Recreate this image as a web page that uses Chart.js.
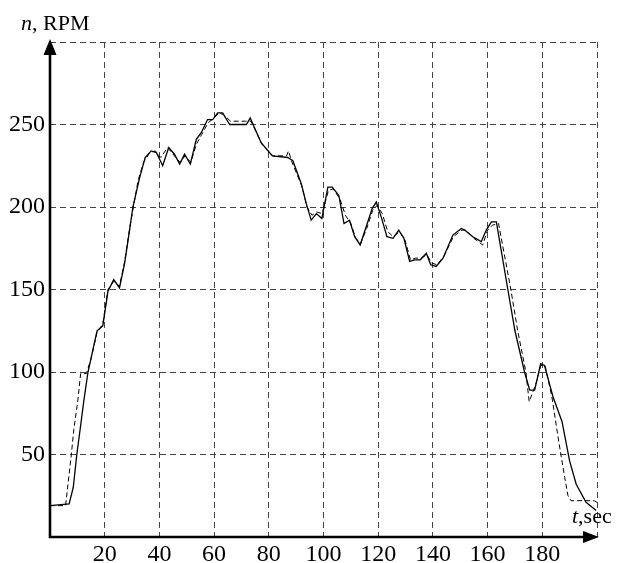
<!DOCTYPE html>
<html>
<head>
<meta charset="utf-8">
<script src="https://cdn.jsdelivr.net/npm/chart.js@4.4.1/dist/chart.umd.min.js"></script>
<style>
  body { margin: 0; background: #fff; }
  canvas { display: block; }
</style>
</head>
<body>
<canvas id="myChart" width="618" height="563"></canvas>
<script>
// measured speed (solid line)
const measT = [0, 7, 8.5, 9.8, 11, 12.4, 13.9, 15.5, 17.2, 19.3, 21.2, 23.3, 25.4, 27.3, 29.1, 30.3, 32.8, 34.8, 37, 38.9,
  41.2, 43.4, 45.5, 47.4, 49.2, 51.3, 53.5, 55.3, 57.6, 59.5, 61.3, 63.1, 65.7, 71.8, 73.2, 77.2, 81.3, 86.9, 88.8, 91.9,
  93.7, 95.5, 97.4, 99.4, 101.6, 103.2, 105.6, 107.5, 109.5, 111.4, 113.4, 115.6, 117.8, 119.3, 121.1, 123.2, 125.4, 127.5, 129.4, 131.5,
  133.3, 135.4, 137.6, 139.2, 141.2, 143.7, 147.3, 150.4, 151.6, 154.6, 157.7, 159.5, 161.4, 163.2, 167.4, 170, 173.5, 175.4, 177.2, 179.4,
  180.8, 183.9, 187.2, 190, 192.4, 196, 199.7];
const measN = [19, 20, 30, 50, 65, 83, 100, 112, 125, 128, 149, 156, 151, 166, 186, 200, 218, 230, 234, 233,
  225, 236, 232, 226, 232, 226, 241, 245, 253, 253, 257, 257, 250, 250, 254, 239, 231, 230, 228, 214,
  202, 192, 196, 193, 212, 212, 207, 190, 192, 182, 177, 188, 199, 203, 194, 182, 181, 186, 181, 167,
  168, 168, 172, 165, 164, 169, 183, 187, 186, 182, 179, 186, 191, 191, 150, 125, 100, 89, 89, 105,
  104, 85, 70, 46, 32, 21, 16];

// model speed (dashed line)
const modelT = [0, 5.7, 7.8, 8.7, 10.2, 11.2, 13.3, 15, 17.2, 19.3, 21.2, 23.3, 25.4, 27.3, 29.1, 30.5, 32.2, 34.2, 36.5, 38.5,
  40.5, 43, 45.5, 47.6, 49.4, 51.5, 53.5, 55.5, 57.8, 60, 61.8, 63.5, 66, 71.5, 73.5, 77.5, 81.5, 86.5, 87.2, 88.5,
  92, 94, 95.8, 97.5, 99.5, 101.8, 103.5, 106, 108, 110, 111.8, 113.6, 115.8, 118, 119.6, 121.5, 123.5, 125.5, 127.8, 129.8,
  131.8, 133.6, 135.6, 137.8, 139.6, 141.5, 144, 147.5, 150.6, 152, 155, 158.2, 160, 161.8, 164, 168.5, 171, 174, 175.2, 177.5,
  179.5, 181, 183.5, 186, 188.2, 189.4, 190.5, 199, 200];
const modelN = [19, 19, 50, 65, 83, 99, 99, 108, 124, 129, 150, 155, 152, 167, 187, 200, 216, 227, 233, 234,
  230, 236, 231, 227, 231, 227, 238, 244, 251, 254, 257, 256, 252, 252, 252, 238, 231, 231, 234, 227,
  213, 200, 195, 197, 196, 210, 211, 205, 195, 190, 181, 178, 187, 198, 201, 196, 185, 182, 185, 180,
  168, 169, 169, 171, 166, 165, 170, 182, 186, 186, 181, 177, 186, 189, 190, 150, 125, 100, 82, 92,
  104, 104, 85, 58, 36, 25, 22, 22, 21];

const xTicks = [20, 40, 60, 80, 100, 120, 140, 160, 180];
const yTicks = [50, 100, 150, 200, 250];

const serif = '"Liberation Serif", "Times New Roman", serif';

function toPoints(xs, ys) {
  const pts = [];
  for (let i = 0; i < xs.length; i++) pts.push({ x: xs[i], y: ys[i] });
  return pts;
}

// axes with arrows + axis titles
const axesPlugin = {
  id: 'axes',
  afterDraw(chart) {
    const ctx = chart.ctx;
    const a = chart.chartArea;
    const x0 = chart.scales.x.getPixelForValue(0);
    const y0 = chart.scales.y.getPixelForValue(0);
    ctx.save();
    ctx.strokeStyle = '#000';
    ctx.fillStyle = '#000';
    ctx.lineWidth = 2.6;
    ctx.beginPath();
    ctx.moveTo(x0, y0 + 1.3);
    ctx.lineTo(x0, a.top + 10);
    ctx.moveTo(x0 - 1.3, y0);
    ctx.lineTo(a.right - 10, y0);
    ctx.stroke();
    // arrow heads
    ctx.beginPath();
    ctx.moveTo(x0, a.top - 3);
    ctx.lineTo(x0 - 6.5, a.top + 13);
    ctx.lineTo(x0 + 6.5, a.top + 13);
    ctx.closePath();
    ctx.fill();
    ctx.beginPath();
    ctx.moveTo(a.right + 2, y0);
    ctx.lineTo(a.right - 14, y0 - 6);
    ctx.lineTo(a.right - 14, y0 + 6);
    ctx.closePath();
    ctx.fill();
    // titles
    ctx.textBaseline = 'alphabetic';
    ctx.textAlign = 'left';
    ctx.font = 'italic 22px ' + serif;
    ctx.fillText('n', 21, 30);
    let w = ctx.measureText('n').width;
    ctx.font = '22px ' + serif;
    ctx.fillText(', RPM', 21 + w, 30);

    ctx.font = 'italic 22px ' + serif;
    ctx.fillText('t', 572, 523);
    w = ctx.measureText('t').width;
    ctx.font = '22px ' + serif;
    ctx.fillText(',sec', 572 + w, 523);
    ctx.restore();
  }
};

new Chart(document.getElementById('myChart'), {
  type: 'line',
  data: {
    datasets: [
      {
        label: 'measured',
        data: toPoints(measT, measN),
        borderColor: '#000',
        borderWidth: 1.3,
        pointRadius: 0,
        tension: 0,
        fill: false
      },
      {
        label: 'model',
        data: toPoints(modelT, modelN),
        borderColor: '#000',
        borderWidth: 1,
        borderDash: [5, 3],
        pointRadius: 0,
        tension: 0,
        fill: false
      }
    ]
  },
  options: {
    responsive: false,
    animation: false,
    layout: { padding: { top: 42, right: 21, left: 0, bottom: 0 } },
    plugins: {
      legend: { display: false },
      tooltip: { enabled: false }
    },
    scales: {
      x: {
        type: 'linear',
        min: 0,
        max: 200,
        afterBuildTicks: (scale) => {
          scale.ticks = [0].concat(xTicks, [200]).map(v => ({ value: v }));
        },
        afterFit: (scale) => { scale.height = 26; },
        border: { display: false, dash: [6, 4] },
        grid: {
          drawTicks: false,
          lineWidth: 1,
          color: (c) => c.tick && c.tick.value === 0 ? 'rgba(0,0,0,0)' : '#444'
        },
        ticks: {
          padding: 3,
          color: '#000',
          font: { family: serif, size: 24 },
          maxRotation: 0,
          autoSkip: false,
          callback: (v) => xTicks.includes(v) ? String(v) : ''
        }
      },
      y: {
        type: 'linear',
        min: 0,
        max: 300,
        afterBuildTicks: (scale) => {
          scale.ticks = [0].concat(yTicks, [300]).map(v => ({ value: v }));
        },
        afterFit: (scale) => { scale.width = 50; },
        border: { display: false, dash: [6, 4] },
        grid: {
          drawTicks: false,
          lineWidth: 1,
          color: (c) => c.tick && c.tick.value === 0 ? 'rgba(0,0,0,0)' : '#444'
        },
        ticks: {
          padding: 5,
          color: '#000',
          font: { family: serif, size: 24 },
          autoSkip: false,
          callback: (v) => yTicks.includes(v) ? String(v) : ''
        }
      }
    }
  },
  plugins: [axesPlugin]
});
</script>
</body>
</html>
